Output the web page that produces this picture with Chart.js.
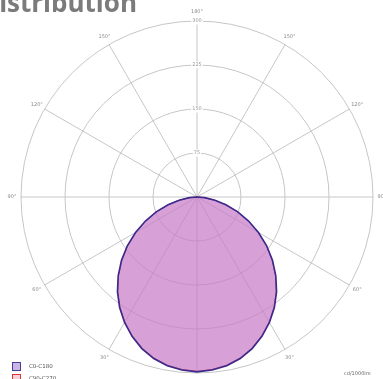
<!DOCTYPE html>
<html>
<head>
<meta charset="utf-8">
<title>Light distribution</title>
<script src="https://cdn.jsdelivr.net/npm/chart.js@4"></script>
<style>
  html, body { margin: 0; padding: 0; background: #fff; overflow: hidden; }
  #wrap { position: relative; width: 383px; height: 379px; overflow: hidden; }
  #title { position: absolute; right: calc(100% - 137px); top: -16px; white-space: nowrap;
           font-family: "Open Sans", sans-serif; font-weight: 700; font-size: 26px; color: #7b7b7b; }
  .leg { position: absolute; left: 12px; font-family: "DejaVu Sans", sans-serif; font-size: 5.5px; color: #555; white-space: nowrap; }
  .leg i { display: inline-block; width: 7px; height: 7px; vertical-align: middle; margin-right: 8px; }
  #unit { position: absolute; left: 344px; top: 370px; font-family: "DejaVu Sans", sans-serif; font-size: 5px; color: #666; }
</style>
</head>
<body>
<div id="wrap">
  <canvas id="polar" width="383" height="379"></canvas>
  <div id="title">Light distribution</div>
  <div class="leg" style="top:362px"><i style="background:#c9b6e6;border:1px solid #4a3a9a"></i>C0-C180</div>
  <div class="leg" style="top:374px"><i style="background:#f6d0dc;border:1px solid #d33"></i>C90-C270</div>
  <div id="unit">cd/1000lm</div>
</div>
<script>
// gamma angles of the measured intensities, 0 = straight down
var gamma = [0,5,10,15,20,25,30,35,40,45,50,55,60,65,70,75,80,85,90,
             95,100,105,110,115,120,125,130,135,140,145,150,155,160,165,170,175,180];
// cd/1000lm per half plane
var c0   = [298,296,292,285,275,262,247,230,211,190,168,145,121,97,74,51,31,13,0,
            0,0,0,0,0,0,0,0,0,0,0,0,0,0,0,0,0,0];
var c180 = [298,296,292,285,275,262,247,230,211,190,168,145,121,97,74,51,31,13,0,
            0,0,0,0,0,0,0,0,0,0,0,0,0,0,0,0,0,0];
var c90  = [297,295,291,284,274,261,246,229,210,189,167,144,120,96,73,50,30,12,0,
            0,0,0,0,0,0,0,0,0,0,0,0,0,0,0,0,0,0];
var c270 = [297,295,291,284,274,261,246,229,210,189,167,144,120,96,73,50,30,12,0,
            0,0,0,0,0,0,0,0,0,0,0,0,0,0,0,0,0,0];
var ringTicks = [75,150,225,300];

// radar runs clockwise from the top: right half goes 180 -> 0, left half 0 -> 180
var labels = [], dataA = [], dataB = [];
for (var i = 0; i < 72; i++) {
  if (i <= 36) {
    var g = 36 - i;
    labels.push(gamma[g] + '°');
    dataA.push(c0[g]);
    dataB.push(c90[g]);
  } else {
    var g = i - 36;
    labels.push(gamma[g] + '°');
    dataA.push(c180[g]);
    dataB.push(c270[g]);
  }
}

// angle captions every 30°, drawn just outside the outer ring
var angleCaptions = {
  id: 'angleCaptions',
  afterDraw: function (chart) {
    var scale = chart.scales.r;
    var ctx = chart.ctx;
    ctx.save();
    ctx.font = '5px "DejaVu Sans"';
    ctx.fillStyle = '#8a8a8a';
    ctx.textAlign = 'center';
    ctx.textBaseline = 'middle';
    for (var i = 0; i < labels.length; i += 6) {
      if (i === 36) continue;
      var p = scale.getPointPosition(i, scale.drawingArea + 9);
      ctx.fillText(labels[i], p.x, p.y);
    }
    ctx.restore();
  }
};

var chart = new Chart(document.getElementById('polar'), {
  type: 'radar',
  data: {
    labels: labels,
    datasets: [
      {
        label: 'C0-C180',
        data: dataA,
        fill: true,
        backgroundColor: 'rgba(175,110,210,0.45)',
        borderColor: '#3b2a8c',
        borderWidth: 1.6,
        pointRadius: 0,
        order: 0
      },
      {
        label: 'C90-C270',
        data: dataB,
        fill: true,
        backgroundColor: 'rgba(240,150,185,0.5)',
        borderColor: '#d02a3a',
        borderWidth: 1,
        pointRadius: 0,
        order: 1
      }
    ]
  },
  plugins: [angleCaptions],
  options: {
    responsive: false,
    animation: false,
    layout: { padding: { left: 17, right: 6, top: 15, bottom: -1 } },
    plugins: { legend: { display: false }, tooltip: { enabled: false } },
    scales: {
      r: {
        min: 0,
        max: 300,
        afterBuildTicks: function (scale) {
          scale.ticks = [0].concat(ringTicks).map(function (v) { return { value: v }; });
        },
        grid: { circular: true, color: '#c6c6c6', lineWidth: 1 },
        angleLines: {
          color: function (ctx) { return ctx.index % 6 === 0 ? '#c6c6c6' : 'rgba(0,0,0,0)'; },
          lineWidth: function (ctx) { return ctx.index % 6 === 0 ? 1 : 0; }
        },
        ticks: {
          display: true,
          color: '#9a9a9a',
          font: { size: 5, family: 'DejaVu Sans' },
          backdropColor: '#fff',
          backdropPadding: 1
        },
        pointLabels: { display: false }
      }
    }
  }
});
</script>
</body>
</html>
